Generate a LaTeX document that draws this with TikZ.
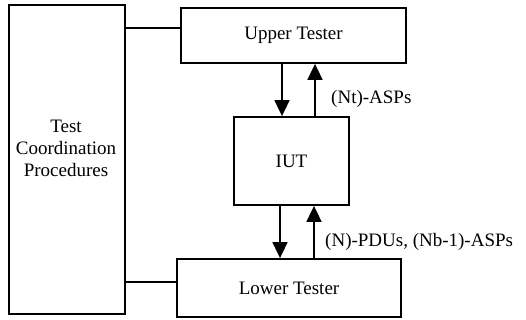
\documentclass[tikz,border=0pt]{standalone}
\usepackage{fontspec}
\setmainfont{Liberation Serif}
\usetikzlibrary{arrows.meta}
\begin{document}
\begin{tikzpicture}[x=1pt,y=-1pt,
  box/.style={draw,line width=1.8pt,inner sep=0pt,font=\fontsize{19}{21}\selectfont},
  conn/.style={line width=1.8pt},
  arr/.style={line width=1.8pt,-{Triangle[width=15pt,length=16pt]}},
  lbl/.style={font=\fontsize{19}{21}\selectfont,anchor=west,inner sep=0pt}]
\useasboundingbox (0,0) rectangle (526,320);
\node[box,minimum width=116pt,minimum height=309pt] (tcp) at (67,159.5) {};
\node[font=\fontsize{19}{22}\selectfont,align=center] (tcpt) at (66,148) {Test\\Coordination\\Procedures};
\node[box,minimum width=225pt,minimum height=55pt] (ut) at (293.5,35.5) {Upper Tester};
\node[box,minimum width=115pt,minimum height=88pt] (iut) at (291.5,161) {IUT};
\node[box,minimum width=224pt,minimum height=58pt] (lt) at (289,288) {Lower Tester};
\draw[conn] (tcp.east |- 0,28) -- (ut.west |- 0,28);
\draw[conn] (tcp.east |- 0,282) -- (lt.west |- 0,282);
\draw[arr] (ut.south -| 282,0) -- (iut.north -| 282,0);
\draw[arr] (iut.north -| 315,0) -- (ut.south -| 315,0);
\draw[arr] (iut.south -| 280,0) -- (lt.north -| 280,0);
\draw[arr] (lt.north -| 314,0) -- (iut.south -| 314,0);
\node[lbl] (l1) at (331,99) {(Nt)-ASPs};
\node[lbl] (l2) at (325,242) {(N)-PDUs, (Nb-1)-ASPs};
\end{tikzpicture}
\end{document}
